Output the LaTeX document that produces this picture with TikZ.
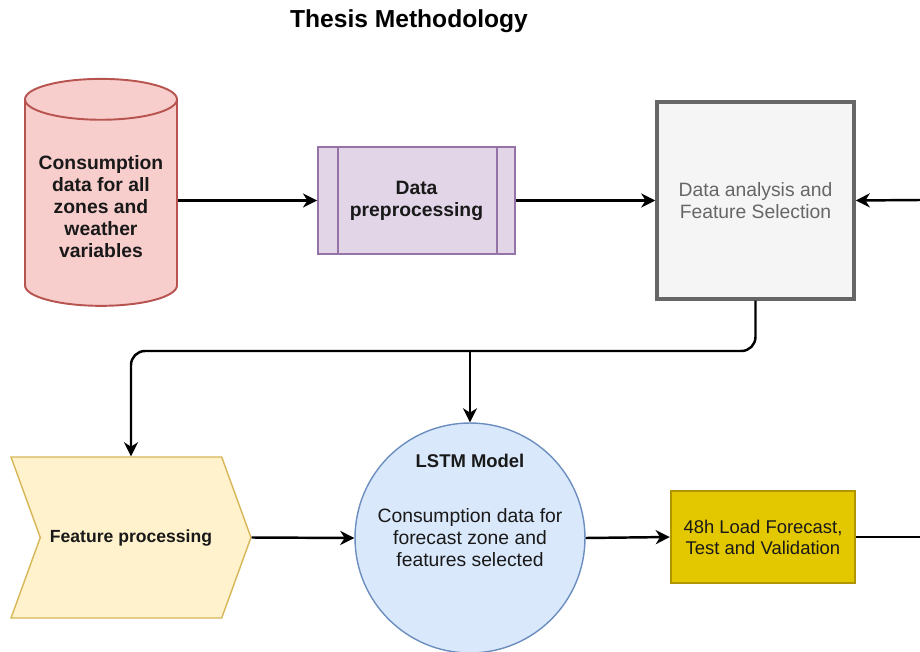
\documentclass[tikz,border=0pt]{standalone}
\usepackage{fontspec}
\setmainfont{Liberation Sans}
\usetikzlibrary{arrows.meta,calc,positioning,shapes.geometric,shapes.symbols}
\definecolor{redfill}{HTML}{F8CECC}
\definecolor{redline}{HTML}{B85450}
\definecolor{violetfill}{HTML}{E1D5E7}
\definecolor{violetline}{HTML}{9673A6}
\definecolor{greyfill}{HTML}{F5F5F5}
\definecolor{greyline}{HTML}{666666}
\definecolor{sandfill}{HTML}{FFF2CC}
\definecolor{sandline}{HTML}{D6B656}
\definecolor{bluefill}{HTML}{DAE8FC}
\definecolor{blueline}{HTML}{6C8EBF}
\definecolor{goldfill}{HTML}{E3C800}
\definecolor{goldline}{HTML}{B09500}

\begin{document}
\begin{tikzpicture}[x=0.02cm,y=-0.02cm,
    txt/.style={font=\fontsize{11}{12.5}\selectfont,align=center,text=black!90},
    flow/.style={line width=1.4pt,-{Stealth[length=8pt,width=8pt,inset=2.5pt]}},
    link/.style={line width=1.4pt}]
  \useasboundingbox (0,0) rectangle (920,652);

  \node[font=\fontsize{14}{16}\selectfont\bfseries] (title) at (409,21) {Thesis Methodology};

  % top row
  \node[cylinder,shape border rotate=90,aspect=0.3,draw=redline,fill=redfill,line width=1.1pt,
        minimum width=3.04cm,minimum height=4.54cm,txt,font=\fontsize{11}{12.5}\selectfont\bfseries]
        (data) at (101,207) {Consumption\\data for all\\zones and\\weather\\variables};
  \node[draw=violetline,fill=violetfill,line width=1.1pt,minimum width=3.94cm,minimum height=2.14cm,
        txt,font=\fontsize{11}{12.5}\selectfont\bfseries] (prep) at (416.5,200.5) {Data\\preprocessing};
  \draw[violetline,line width=1.1pt] ($(prep.north west)+(21,0)$) -- ($(prep.south west)+(21,0)$)
        ($(prep.north east)+(-19,0)$) -- ($(prep.south east)+(-19,0)$);
  \node[draw=greyline,fill=greyfill,line width=2pt,minimum width=3.94cm,minimum height=3.94cm,
        txt,text=greyline] (select) at (755.5,200.5) {Data analysis and\\Feature Selection};

  % bottom row
  \node[signal,signal to=east,signal from=west,signal pointer angle=140,draw=sandline,fill=sandfill,
        line width=0.8pt,inner xsep=5.5pt,minimum width=4.62cm,minimum height=3.22cm,txt,
        font=\fontsize{10}{12}\selectfont\bfseries] (feat) at (131,537.5) {Feature processing};
  \node[circle,draw=blueline,fill=bluefill,line width=0.8pt,minimum size=4.6cm,txt]
        (lstm) at (470,538) {Consumption data for\\forecast zone and\\features selected};
  \node[txt,font=\fontsize{10.5}{12}\selectfont\bfseries,below=0.52cm of lstm.north] (lstmname) {LSTM Model};
  \node[draw=goldline,fill=goldfill,line width=1.4pt,minimum width=3.68cm,minimum height=1.84cm,
        txt,font=\fontsize{10.5}{12}\selectfont] (fcast) at (763,537) {48h Load Forecast,\\Test and Validation};

  \coordinate (inR) at (920,200);
  \coordinate (outR) at (920,537);
  \coordinate (fork) at (470,351);

  \draw[flow] (data.east |- prep.west) -- (prep.west);
  \draw[flow] (prep.east) -- (select.west);
  \draw[flow] (inR) -- (select.east);
  \draw[flow,rounded corners=8pt] (select.south) |- (fork) -| (feat.north);
  \draw[flow] (fork) -- (lstm.north);
  \draw[flow] (feat.east) -- (lstm.west);
  \draw[flow] (lstm.east) -- (fcast.west);
  \draw[link] (fcast.east) -- (outR);
\end{tikzpicture}
\end{document}
